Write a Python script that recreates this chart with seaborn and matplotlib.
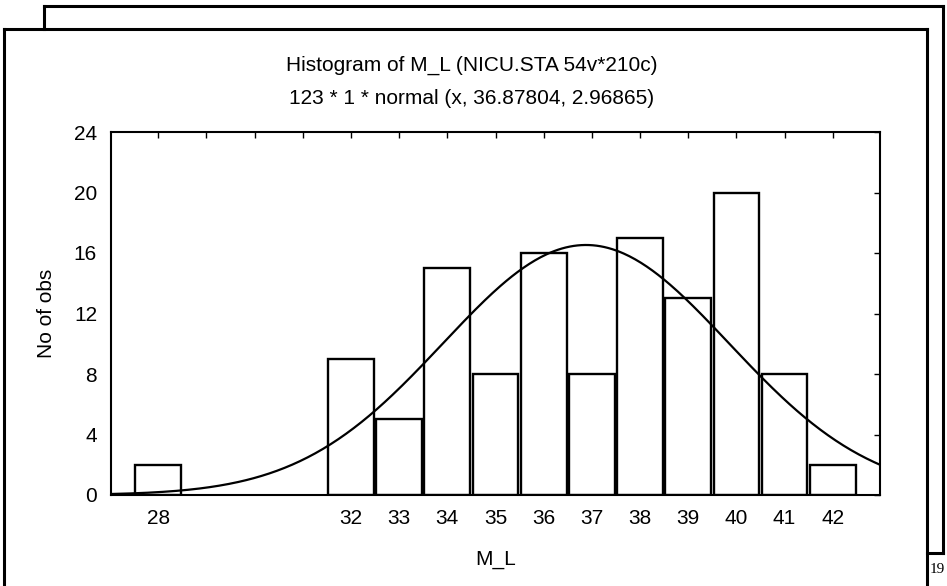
import numpy as np
import pandas as pd
import matplotlib
matplotlib.use("Agg")
import matplotlib.pyplot as plt
from matplotlib.lines import Line2D
import seaborn as sns

# ---- data ----
bins = [28, 32, 33, 34, 35, 36, 37, 38, 39, 40, 41, 42]
counts = [2, 9, 5, 15, 8, 16, 8, 17, 13, 20, 8, 2]
fit_n = 123
fit_mean = 36.87804
fit_sd = 2.96865
x_ticks = list(range(28, 43))
x_ticklabels = ["28", "", "", "", "32", "33", "34", "35", "36", "37", "38", "39", "40", "41", "42"]
y_ticks = [0, 4, 8, 12, 16, 20, 24]
title1 = "Histogram of M_L (NICU.STA 54v*210c)"
title2 = "123 * 1 * normal (x, 36.87804, 2.96865)"

sns.set_theme(style="white")
plt.rcParams['font.family'] = ['Liberation Sans', 'DejaVu Sans']

W, H = 947, 586
fig = plt.figure(figsize=(W / 100, H / 100), dpi=100)
fig.patch.set_facecolor("white")

def fx(x):
    return x / W

def fy(y):
    return 1 - y / H

# axes placement (pixel box: left 111, right 880, top 132, bottom 495)
ax = fig.add_axes([fx(111), fy(495), fx(880) - fx(111), fy(132) - fy(495)])
ax.set_facecolor("white")

df = pd.DataFrame({"M_L": bins, "n": counts})
sns.barplot(data=df, x="M_L", y="n", native_scale=True, width=0.95,
            color="white", edgecolor="black", linewidth=1.7, ax=ax,
            saturation=1, errorbar=None)

xmin, xmax = 27.02, 42.98
xs = np.linspace(xmin, xmax, 400)
ys = fit_n * 1 * np.exp(-0.5 * ((xs - fit_mean) / fit_sd) ** 2) / (fit_sd * np.sqrt(2 * np.pi))
sns.lineplot(x=xs, y=ys, color="black", linewidth=1.6, ax=ax)

fs = 15
ax.set_xlim(xmin, xmax)
ax.set_ylim(0, 24)
ax.set_xticks(x_ticks)
ax.set_xticklabels(x_ticklabels)
ax.set_yticks(y_ticks)
ax.tick_params(direction="in", length=4, width=1, colors="black",
               top=True, right=True, labelsize=fs)
ax.tick_params(axis="x", pad=10)
ax.tick_params(axis="y", pad=10)
for s in ax.spines.values():
    s.set_visible(True)
    s.set_color("black")
    s.set_linewidth(1.5)
ax.set_xlabel("M_L", fontsize=fs, labelpad=16, color="black")
ax.set_ylabel("No of obs", fontsize=fs, labelpad=13, color="black")

fig.text(fx(472), fy(65), title1, ha="center", va="center", fontsize=fs, color="black")
fig.text(fx(472), fy(99), title2, ha="center", va="center", fontsize=fs, color="black")

# window frames
lw = 2.2
def line(x0, y0, x1, y1):
    fig.add_artist(Line2D([fx(x0), fx(x1)], [fy(y0), fy(y1)], color="black",
                          linewidth=lw, transform=fig.transFigure,
                          solid_capstyle="projecting"))

# back frame
line(44, 6, 943, 6)
line(44, 6, 44, 29)
line(943, 6, 943, 553)
line(927, 553, 943, 553)
# front frame
line(4, 29, 927, 29)
line(4, 29, 4, 590)
line(927, 29, 927, 590)

fig.text(fx(929.5), fy(563), "19", ha="left", va="top", fontsize=11,
         family=["Liberation Serif", "DejaVu Serif"], color="black")

fig.savefig("out.png", dpi=100)
